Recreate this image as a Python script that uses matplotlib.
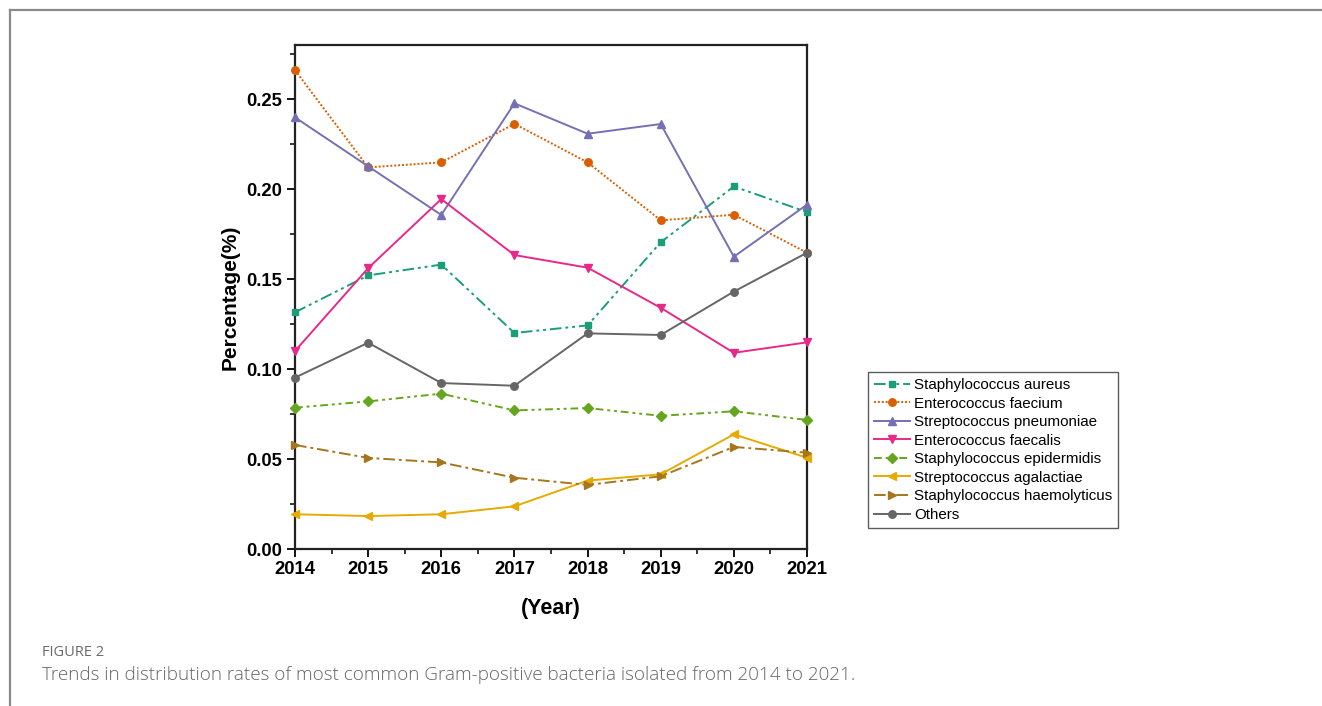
import matplotlib
matplotlib.use("Agg")
import matplotlib.pyplot as plt
from matplotlib.ticker import MultipleLocator, FormatStrFormatter
from matplotlib.lines import Line2D

plt.rcParams['font.family'] = ['Liberation Sans', 'DejaVu Sans']

years = [2014, 2015, 2016, 2017, 2018, 2019, 2020, 2021]

staph_aureus = [0.1315, 0.1520, 0.1580, 0.1200, 0.1242, 0.1704, 0.2014, 0.1872]
ent_faecium = [0.2660, 0.2120, 0.2148, 0.2362, 0.2148, 0.1826, 0.1857, 0.1646]
strep_pneumoniae = [0.2398, 0.2126, 0.1856, 0.2476, 0.2307, 0.2361, 0.1624, 0.1913]
ent_faecalis = [0.1100, 0.1560, 0.1944, 0.1633, 0.1563, 0.1340, 0.1090, 0.1148]
staph_epidermidis = [0.0785, 0.0820, 0.0863, 0.0770, 0.0783, 0.0740, 0.0765, 0.0717]
strep_agalactiae = [0.0193, 0.0183, 0.0193, 0.0237, 0.0380, 0.0415, 0.0637, 0.0507]
staph_haemolyticus = [0.0578, 0.0506, 0.0481, 0.0396, 0.0356, 0.0404, 0.0567, 0.0535]
others = [0.0952, 0.1146, 0.0922, 0.0907, 0.1198, 0.1189, 0.1430, 0.1646]

series = [
    ("Staphylococcus aureus", staph_aureus, "#1B9E77", "s", (0, (6, 2, 1.5, 2, 1.5, 2))),
    ("Enterococcus faecium", ent_faecium, "#D95F02", "o", (0, (1, 1))),
    ("Streptococcus pneumoniae", strep_pneumoniae, "#7570B3", "^", "-"),
    ("Enterococcus faecalis", ent_faecalis, "#E7298A", "v", "-"),
    ("Staphylococcus epidermidis", staph_epidermidis, "#66A61E", "D", (0, (4, 2, 1.5, 2, 1.5, 2))),
    ("Streptococcus agalactiae", strep_agalactiae, "#E6AB02", "<", "-"),
    ("Staphylococcus haemolyticus", staph_haemolyticus, "#A6761D", ">", (0, (6, 2, 1.5, 2))),
    ("Others", others, "#666666", "o", "-"),
]
marker_sizes = {"s": 4.8, "o": 5.4, "^": 6.0, "v": 6.0, "D": 4.6, "<": 6.0, ">": 6.0}

fig = plt.figure(figsize=(13.22, 7.06), dpi=100)
ax = fig.add_axes([295 / 1322, 1 - 549 / 706, 512 / 1322, 504 / 706])

for name, vals, color, marker, ls in series:
    ax.plot(years, vals, color=color, marker=marker, linestyle=ls,
            linewidth=1.4, markersize=marker_sizes[marker], label=name,
            clip_on=False, zorder=3)

ax.set_xlim(2014, 2021)
ax.set_ylim(0, 0.28)
ax.xaxis.set_major_locator(MultipleLocator(1))
ax.xaxis.set_minor_locator(MultipleLocator(0.5))
ax.yaxis.set_major_locator(MultipleLocator(0.05))
ax.yaxis.set_minor_locator(MultipleLocator(0.025))
ax.yaxis.set_major_formatter(FormatStrFormatter('%.2f'))
ax.tick_params(which='major', direction='out', length=6, width=1.3, top=False, right=False,
               labelsize=13.3, pad=3)
ax.tick_params(which='minor', direction='out', length=3.5, width=1.1, top=False, right=False)
for lbl in ax.get_xticklabels() + ax.get_yticklabels():
    lbl.set_fontweight('bold')
for sp in ax.spines.values():
    sp.set_linewidth(1.6)
    sp.set_color('#222222')

ax.set_ylabel("Percentage(%)", fontsize=15, fontweight='bold', labelpad=5)
ax.set_xlabel("(Year)", fontsize=15.5, fontweight='bold', labelpad=14)

leg = ax.legend(loc='upper left', bbox_to_anchor=(868 / 1322, 1 - 372 / 706),
                bbox_transform=fig.transFigure, frameon=True, fancybox=False,
                fontsize=10.9, handlelength=2.4, handletextpad=0.25, labelspacing=0.3,
                borderpad=0.4, borderaxespad=0)
leg.get_frame().set_edgecolor('#333333')
leg.get_frame().set_linewidth(1.0)

# page frame around the figure block
fig.add_artist(Line2D([9.5 / 1322, 1321 / 1322], [1 - 10 / 706, 1 - 10 / 706],
                      transform=fig.transFigure, color='#8a8a8a', linewidth=1.6))
fig.add_artist(Line2D([9.5 / 1322, 9.5 / 1322], [0, 1 - 10 / 706],
                      transform=fig.transFigure, color='#8a8a8a', linewidth=1.6))

fig.text(42 / 1322, 1 - 652 / 706, "FIGURE 2", fontsize=10.5, color='#6a6a6a',
         family=['Open Sans', 'DejaVu Sans'], va='center', ha='left')
fig.text(42 / 1322, 1 - 675 / 706,
         "Trends in distribution rates of most common Gram-positive bacteria isolated from 2014 to 2021.",
         fontsize=13.6, color='#666666', family=['Open Sans', 'DejaVu Sans'],
         fontweight='light', va='center', ha='left')

fig.savefig("out.png", dpi=100)
